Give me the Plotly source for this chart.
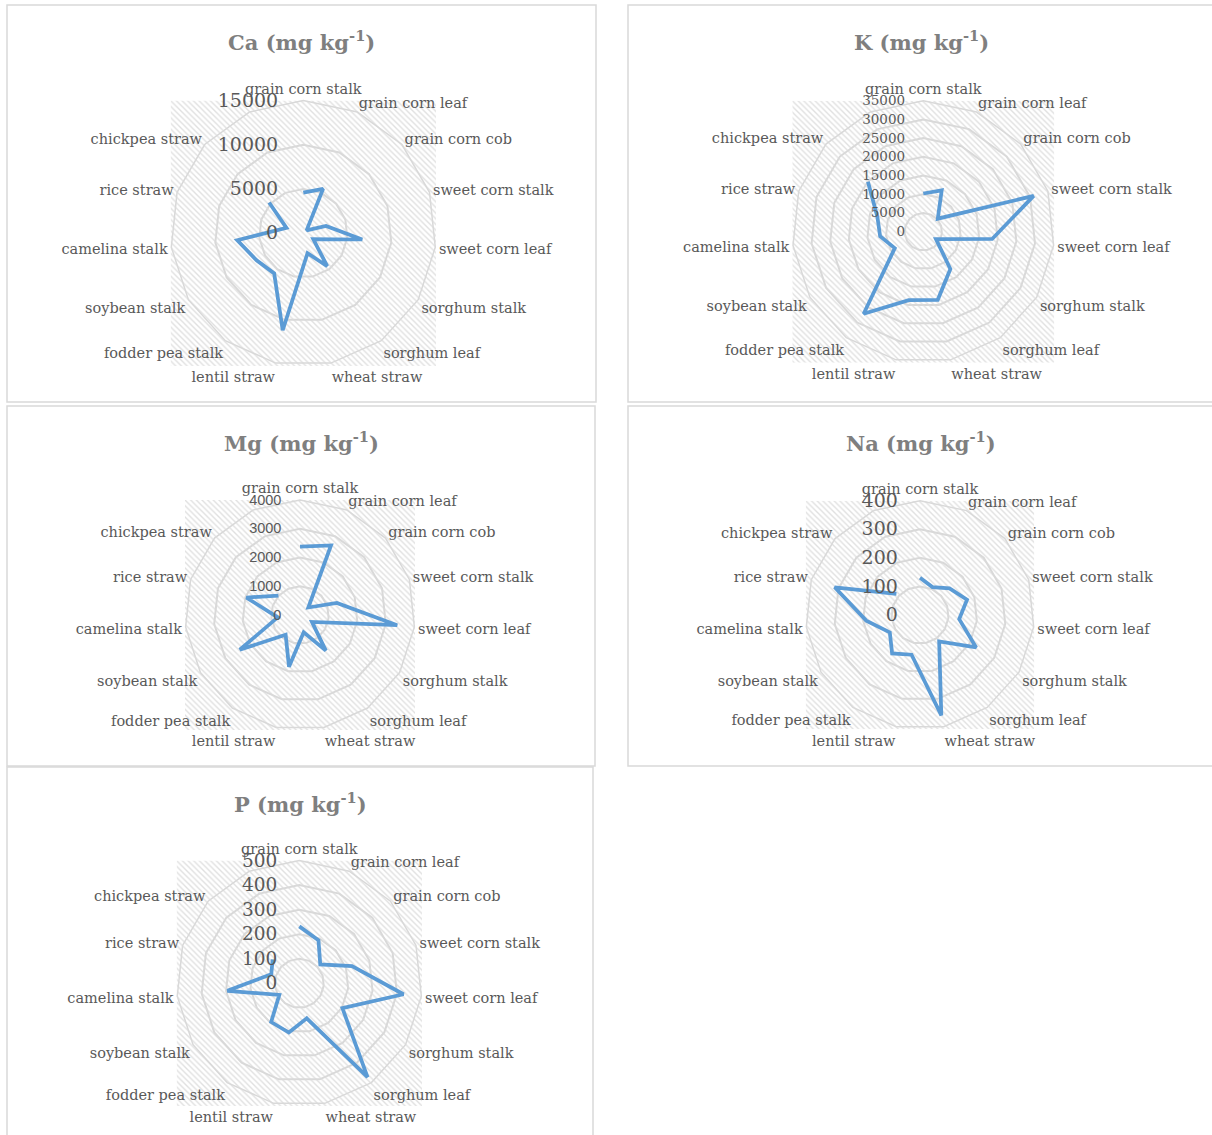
import plotly.graph_objects as go

# Residue categories (the blank 15th spoke keeps the Excel-style open ring)
categories = ["grain corn stalk", "grain corn leaf", "grain corn cob", "sweet corn stalk",
              "sweet corn leaf", "sorghum stalk", "sorghum leaf", "wheat straw",
              "lentil straw", "fodder pea stalk", "soybean stalk", "camelina stalk",
              "rice straw", "chickpea straw"]
spokes = categories + [" "]

# Mineral content, mg kg-1
ca_vals = [4600, 5500, 500, 2700, 6700, 1300, 4600, 2300, 11200, 5600, 6100, 7500, 2000, 5200]
k_vals = [10200, 12100, 5200, 31000, 18500, 3900, 12300, 18600, 18700, 27100, 8800, 11600, 12900, 19900]
mg_vals = [2380, 2650, 390, 1350, 3400, 480, 1530, 615, 1840, 850, 2420, 780, 1960, 1010]
na_vals = [130, 107, 139, 173, 138, 227, 114, 359, 142, 166, 122, 189, 314, 111]
p_vals = [232, 192, 115, 226, 427, 203, 473, 146, 205, 195, 94, 295, 120, 146]

titles = ["Ca", "K", "Mg", "Na", "P"]
series = [ca_vals, k_vals, mg_vals, na_vals, p_vals]
radial_max = [15000, 35000, 4000, 400, 500]
radial_step = [5000, 5000, 1000, 100, 100]

W, H = 1212, 1135
LINE_BLUE = "#5B9BD5"
GRID = "#d9d9d9"
TEXT = "#595959"

# panel geometry in pixels: chart box, plot centre, plot radius
panels = [
    dict(box=(7, 5, 596, 402), c=(303.3, 233.3), R=132.7,
         tick_font=dict(family="DejaVu Serif", size=19, color=TEXT), tick_gap=18),
    dict(box=(628, 5, 1214, 402), c=(923.3, 231.7), R=131.0,
         tick_font=dict(family="DejaVu Serif", size=13.5, color=TEXT), tick_gap=13),
    dict(box=(7, 406, 595, 766), c=(300.0, 615.0), R=115.0,
         tick_font=dict(family="Liberation Sans", size=14.5, color=TEXT), tick_gap=13),
    dict(box=(628, 406, 1214, 766), c=(920.0, 615.0), R=114.3,
         tick_font=dict(family="DejaVu Serif", size=19, color=TEXT), tick_gap=15),
    dict(box=(7, 767, 593, 1137), c=(299.3, 983.3), R=122.7,
         tick_font=dict(family="DejaVu Serif", size=18.5, color=TEXT), tick_gap=15),
]


def px_x(v):
    return v / W


def px_y(v):
    return 1 - v / H


fig = go.Figure()
layout = dict(width=W, height=H, margin=dict(l=0, r=0, t=0, b=0),
              paper_bgcolor="white", plot_bgcolor="rgba(0,0,0,0)",
              showlegend=False, shapes=[], annotations=[])

for i, (name, vals, pan) in enumerate(zip(titles, series, panels), start=1):
    cx, cy = pan["c"]
    R = pan["R"]
    dom_x = [px_x(cx - R), px_x(cx + R)]
    dom_y = [px_y(cy + R), px_y(cy - R)]
    sfx = "" if i == 1 else str(i)

    # hatched plot-area background
    fig.add_trace(go.Scatter(
        x=[0, 1, 1, 0, 0], y=[0, 0, 1, 1, 0], mode="none", fill="toself",
        fillcolor="white",
        fillpattern=dict(shape="\\", fgcolor="#c2c2c2", bgcolor="white", size=4, solidity=0.35),
        hoverinfo="skip", xaxis="x" + sfx, yaxis="y" + sfx))
    layout["xaxis" + sfx] = dict(domain=dom_x, range=[0, 1], visible=False, fixedrange=True)
    layout["yaxis" + sfx] = dict(domain=dom_y, range=[0, 1], visible=False, fixedrange=True)

    fig.add_trace(go.Scatterpolar(
        r=vals, theta=categories, mode="lines",
        line=dict(color=LINE_BLUE, width=3.75),
        subplot="polar" + sfx, hoverinfo="r+theta"))

    layout["polar" + sfx] = dict(
        domain=dict(x=dom_x, y=dom_y),
        bgcolor="rgba(0,0,0,0)",
        gridshape="linear",
        radialaxis=dict(
            range=[0, radial_max[i - 1]], dtick=radial_step[i - 1], tick0=0,
            tickformat="d", exponentformat="none",
            angle=90, tickangle=90, side="counterclockwise",
            showline=False, gridcolor=GRID, gridwidth=1.5,
            ticks="outside", ticklen=pan["tick_gap"], tickcolor="rgba(0,0,0,0)",
            tickfont=pan["tick_font"], showticklabels=True),
        angularaxis=dict(
            type="category", categoryarray=spokes, categoryorder="array",
            rotation=90, direction="clockwise",
            showgrid=False, showline=True, linecolor=GRID, linewidth=1.5,
            ticks="", tickfont=dict(family="DejaVu Serif", size=14.5, color=TEXT)),
    )

    x0, y0, x1, y1 = pan["box"]
    layout["shapes"].append(dict(
        type="rect", xref="paper", yref="paper",
        x0=px_x(x0), x1=px_x(x1), y0=px_y(y1), y1=px_y(y0),
        line=dict(color=GRID, width=1.5), fillcolor="rgba(0,0,0,0)"))
    layout["annotations"].append(dict(
        text=f"<b>{name} (mg kg<sup>-1</sup>)</b>", xref="paper", yref="paper",
        x=px_x((x0 + x1) / 2), y=px_y(y0 + 36), xanchor="center", yanchor="middle",
        showarrow=False, font=dict(family="DejaVu Serif", size=21, color="#7f7f7f")))

fig.update_layout(**layout)
fig.write_html("out.html")
